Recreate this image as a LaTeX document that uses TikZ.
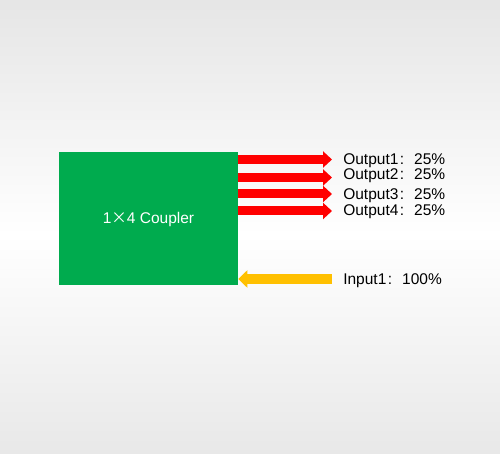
\documentclass[tikz,border=0pt]{standalone}
\usepackage{fontspec}
\setmainfont{Liberation Sans}
\newfontfamily\cjk{Noto Sans CJK SC}
\usetikzlibrary{arrows.meta,positioning}
\definecolor{couplergreen}{HTML}{00AB4E}
\definecolor{outred}{HTML}{FF0000}
\definecolor{inyellow}{HTML}{FFC000}
\newcommand{\fwcolon}{\kern1.5pt:\kern10pt}
\begin{document}
\begin{tikzpicture}[
    x = 1pt, y = -1pt, % pixel grid, origin top left
    font = \fontsize{15.5}{17}\selectfont,
    semithick % line style
    ]

    \tikzset{
    coupler/.style = {fill = couplergreen, text = white, minimum width = 179pt,
        minimum height = 133pt, inner sep = 0pt, text height = 11pt, text depth = 0pt},
    portlabel/.style = {anchor = base west, inner sep = 0pt,
        text height = 11pt, text depth = 3pt},
    outarrow/.style = {draw = outred, line width = 9pt,
        -{Triangle[length = 9pt, width = 16pt]}},
    inarrow/.style = {draw = inyellow, line width = 10pt,
        -{Triangle[length = 9pt, width = 17pt]}}
    }
    % background
    \useasboundingbox (0,0) rectangle (500,454);
    \shade[top color = black!10, bottom color = white] (0,0) rectangle (500,235);
    \shade[top color = white, bottom color = black!9] (0,235) rectangle (500,454);

    \node[coupler] (coupler) at (148.5,218.5) {1{\cjk ×}4 Coupler};

    \coordinate (t1) at (332,159.5);
    \coordinate (t2) at (332,177.5);
    \coordinate (t3) at (332,194);
    \coordinate (t4) at (332,211);
    \coordinate (s1) at (332,279);

    \node[portlabel] (o1) at (343,165) {Output1\fwcolon 25\%};
    \node[portlabel] (o2) at (343,180) {Output2\fwcolon 25\%};
    \node[portlabel] (o3) at (343,200) {Output3\fwcolon 25\%};
    \node[portlabel] (o4) at (343,215) {Output4\fwcolon 25\%};
    \node[portlabel] (i1) at (343,284) {Input1\fwcolon 100\%};

    \path[outarrow] (coupler.east |- t1) -- (t1);
    \path[outarrow] (coupler.east |- t2) -- (t2);
    \path[outarrow] (coupler.east |- t3) -- (t3);
    \path[outarrow] (coupler.east |- t4) -- (t4);
    \path[inarrow] (s1) -- (coupler.east |- s1);
\end{tikzpicture}
\end{document}
